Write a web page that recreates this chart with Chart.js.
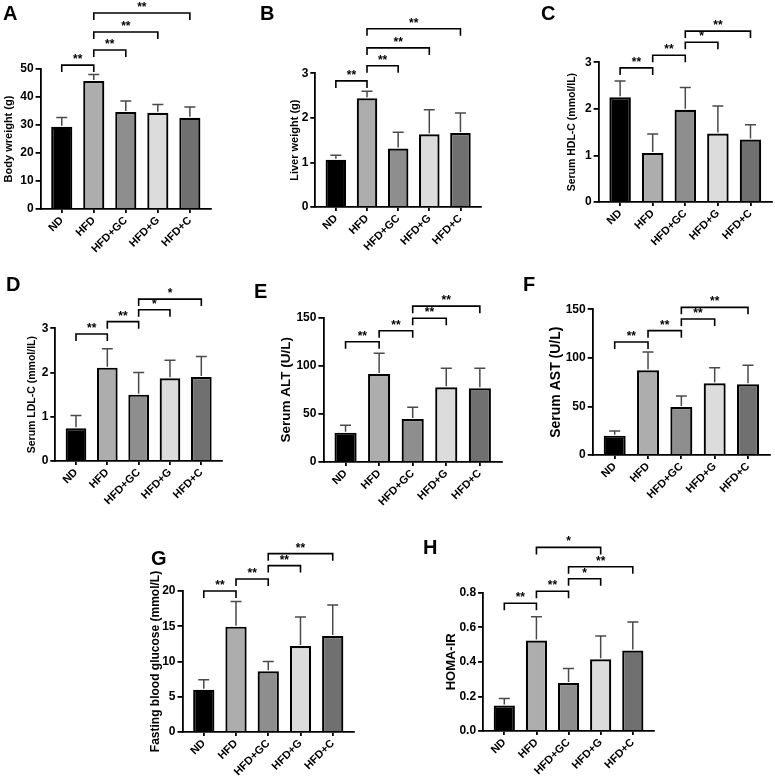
<!DOCTYPE html>
<html>
<head>
<meta charset="utf-8">
<script src="https://cdn.jsdelivr.net/npm/chart.js@4.4.1/dist/chart.umd.min.js"></script>
<style>
  body { margin: 0; background: #fff; width: 775px; height: 779px; position: relative; overflow: hidden; }
  canvas { position: absolute; }
  .tag { position: absolute; font: bold 20px Arial, "Liberation Sans", sans-serif; line-height: 1; color: #000; z-index: 2; }
</style>
</head>
<body>
<div class="tag" style="left:3px;top:3px">A</div>
<div class="tag" style="left:260px;top:3px">B</div>
<div class="tag" style="left:541px;top:3px">C</div>
<div class="tag" style="left:6px;top:274px">D</div>
<div class="tag" style="left:254px;top:281px">E</div>
<div class="tag" style="left:523px;top:274px">F</div>
<div class="tag" style="left:151px;top:548px">G</div>
<div class="tag" style="left:423px;top:537px">H</div>

<script>
// Groups on the x axis
const groups = ['ND', 'HFD', 'HFD+GC', 'HFD+G', 'HFD+C'];

// Means and upper error (SD) per panel
const bodyWeight = [29.4, 45.7, 34.6, 34.4, 32.6];
const bodyWeightSd = [3.3, 2.3, 4.0, 2.9, 3.8];
const liverWeight = [1.06, 2.44, 1.31, 1.63, 1.66];
const liverWeightSd = [0.10, 0.16, 0.37, 0.55, 0.45];
const hdl = [2.25, 1.05, 1.98, 1.47, 1.34];
const hdlSd = [0.35, 0.41, 0.48, 0.59, 0.32];
const ldl = [0.74, 2.11, 1.50, 1.87, 1.90];
const ldlSd = [0.29, 0.43, 0.50, 0.41, 0.46];
const alt = [30.5, 91.5, 44.7, 77.6, 76.6];
const altSd = [7.6, 21.5, 12.1, 19.8, 20.8];
const ast = [19.9, 87.2, 49.4, 73.8, 72.8];
const astSd = [4.8, 18.8, 11.4, 16.1, 19.6];
const glucose = [5.98, 14.94, 8.6, 12.2, 13.6];
const glucoseSd = [1.42, 3.56, 1.4, 4.1, 4.4];
const homaIr = [0.148, 0.523, 0.277, 0.415, 0.465];
const homaIrSd = [0.040, 0.138, 0.084, 0.135, 0.165];

// Significance brackets: [from group, to group, bracket level (data units), mark]
const bodyWeightSig = [[0, 1, 51.4, '**'], [1, 2, 56.8, '**'], [1, 3, 63.2, '**'], [1, 4, 70, '**']];
const liverWeightSig = [[0, 1, 2.83, '**'], [1, 2, 3.17, '**'], [1, 3, 3.57, '**'], [1, 4, 4.0, '**']];
const hdlSig = [[0, 1, 2.88, '**'], [1, 2, 3.15, '**'], [2, 3, 3.43, '*'], [2, 4, 3.67, '**']];
const ldlSig = [[0, 1, 2.87, '**'], [1, 2, 3.15, '**'], [2, 3, 3.42, '*'], [2, 4, 3.66, '*']];
const altSig = [[0, 1, 125, '**'], [1, 2, 136.5, '**'], [2, 3, 149.4, '**'], [2, 4, 162, '**']];
const astSig = [[0, 1, 116.4, '**'], [1, 2, 128, '**'], [2, 3, 140, '**'], [2, 4, 152, '**']];
const glucoseSig = [[0, 1, 20.0, '**'], [1, 2, 21.7, '**'], [2, 3, 23.6, '**'], [2, 4, 25.3, '**']];
const homaIrSig = [[0, 1, 0.739, '**'], [1, 2, 0.808, '**'], [2, 3, 0.881, '*'], [2, 4, 0.95, '**'], [1, 3, 1.062, '*']];

const FONT = 'Arial, "Liberation Sans", Helvetica, sans-serif';
const barColors = ['#000000', '#adadad', '#8e8e8e', '#dcdcdc', '#707070'];

// Build one bar panel with error bars and brackets
const makePanel = (p) => {
  const xH = 62;
  const padR = 3;
  const padTop = p.top - p.canvasTop;
  const yW = p.left - (p.titleX - p.titleSize * 0.6);
  const w = Math.round(yW + (p.right - p.left) + padR);
  const h = Math.round(padTop + (p.bottom - p.top) + xH);

  const cv = document.createElement('canvas');
  cv.width = w;
  cv.height = h;
  cv.style.left = (p.left - yW) + 'px';
  cv.style.top = p.canvasTop + 'px';
  document.body.appendChild(cv);

  // Error bars + significance brackets
  const extras = {
    id: 'extras',
    afterDatasetsDraw(chart) {
      const { ctx, scales: { x, y } } = chart;
      ctx.save();
      ctx.strokeStyle = '#4a4a4a';
      ctx.lineWidth = 1.5;
      p.values.forEach((v, i) => {
        const px = x.getPixelForValue(i);
        const y0 = y.getPixelForValue(v) - 1;
        const y1 = y.getPixelForValue(v + p.errors[i]);
        ctx.beginPath();
        ctx.moveTo(px, y0);
        ctx.lineTo(px, y1);
        ctx.moveTo(px - 5.5, y1);
        ctx.lineTo(px + 5.5, y1);
        ctx.stroke();
      });

      ctx.strokeStyle = '#000';
      ctx.fillStyle = '#000';
      ctx.lineWidth = 1.6;
      ctx.font = 'bold 12px ' + FONT;
      ctx.textAlign = 'center';
      ctx.textBaseline = 'alphabetic';
      p.sig.forEach(([a, b, level, mark]) => {
        const xa = x.getPixelForValue(a);
        const xb = x.getPixelForValue(b);
        const yy = y.getPixelForValue(level);
        ctx.beginPath();
        ctx.moveTo(xa, yy + 7);
        ctx.lineTo(xa, yy);
        ctx.lineTo(xb, yy);
        ctx.lineTo(xb, yy + 7);
        ctx.stroke();
        ctx.fillText(mark, (xa + xb) / 2, yy - 2);
      });
      ctx.restore();
    }
  };

  return new Chart(cv, {
    type: 'bar',
    data: {
      datasets: [{
        data: p.values.map((v, i) => ({ x: i, y: v })),
        backgroundColor: barColors,
        borderColor: '#000',
        borderWidth: 2.2,
        borderSkipped: 'start',
        categoryPercentage: 1,
        barPercentage: 0.66
      }]
    },
    options: {
      responsive: false,
      animation: false,
      events: [],
      layout: { padding: { top: padTop, right: padR, left: 0, bottom: 0 } },
      plugins: { legend: { display: false }, tooltip: { enabled: false } },
      scales: {
        x: {
          type: 'linear',
          bounds: 'data',
          min: -0.66,
          max: 4.66,
          offset: false,
          afterBuildTicks: (s) => { s.ticks = groups.map((g, i) => ({ value: i })); },
          afterFit: (s) => { s.height = xH; },
          ticks: {
            autoSkip: false,
            minRotation: 45,
            maxRotation: 45,
            padding: 1,
            color: '#000',
            font: { family: FONT, size: 11, weight: 'bold' },
            callback: (v) => groups[v]
          },
          grid: { display: true, drawOnChartArea: false, drawTicks: true, tickLength: 4, color: '#000', lineWidth: 1.8, offset: false },
          border: { display: true, color: '#000', width: 1.8 }
        },
        y: {
          min: 0,
          max: p.max,
          afterFit: (s) => { s.width = yW; },
          ticks: {
            stepSize: p.step,
            padding: 2,
            color: '#000',
            font: { family: FONT, size: 12, weight: 'bold' },
            callback: (v) => p.digits ? Number(v).toFixed(p.digits) : v
          },
          grid: { display: true, drawOnChartArea: false, drawTicks: true, tickLength: 5, color: '#000', lineWidth: 1.8 },
          border: { display: true, color: '#000', width: 1.8 },
          title: {
            display: true,
            text: p.title,
            color: '#000',
            padding: 0,
            font: { family: FONT, size: p.titleSize, weight: 'bold' }
          }
        }
      }
    },
    plugins: [extras]
  });
};

// Panels
makePanel({ values: bodyWeight, errors: bodyWeightSd, sig: bodyWeightSig, title: 'Body wreight (g)',
  max: 50, step: 10, left: 41, right: 211, top: 69, bottom: 209, canvasTop: 0, titleX: 9, titleSize: 11 });
makePanel({ values: liverWeight, errors: liverWeightSd, sig: liverWeightSig, title: 'Liver weight (g)',
  max: 3, step: 1, left: 315.7, right: 481.7, top: 73.3, bottom: 207.3, canvasTop: 0, titleX: 295, titleSize: 11 });
makePanel({ values: hdl, errors: hdlSd, sig: hdlSig, title: 'Serum HDL-C (mmol/lL)',
  max: 3, step: 1, left: 598.3, right: 771.5, top: 62.3, bottom: 201.7, canvasTop: 0, titleX: 572, titleSize: 10.5 });
makePanel({ values: ldl, errors: ldlSd, sig: ldlSig, title: 'Serum LDL-C (mmol/lL)',
  max: 3, step: 1, left: 55, right: 222, top: 328.3, bottom: 461.3, canvasTop: 270, titleX: 32, titleSize: 10.5 });
makePanel({ values: alt, errors: altSd, sig: altSig, title: 'Serum ALT (U/L)',
  max: 150, step: 50, left: 323.3, right: 501.5, top: 317.7, bottom: 462, canvasTop: 270, titleX: 286, titleSize: 13.5 });
makePanel({ values: ast, errors: astSd, sig: astSig, title: 'Serum AST (U/L)',
  max: 150, step: 50, left: 592.3, right: 769.5, top: 309.3, bottom: 455, canvasTop: 270, titleX: 556, titleSize: 14 });
makePanel({ values: glucose, errors: glucoseSd, sig: glucoseSig, title: 'Fasting blood glucose (mmol/L)',
  max: 20, step: 5, left: 182.3, right: 354, top: 591, bottom: 732.3, canvasTop: 530, titleX: 155, titleSize: 12 });
makePanel({ values: homaIr, errors: homaIrSd, sig: homaIrSig, title: 'HOMA-IR',
  max: 0.8, step: 0.2, digits: 1, left: 483.3, right: 654, top: 592.7, bottom: 731.3, canvasTop: 530, titleX: 452, titleSize: 13 });
</script>
</body>
</html>
